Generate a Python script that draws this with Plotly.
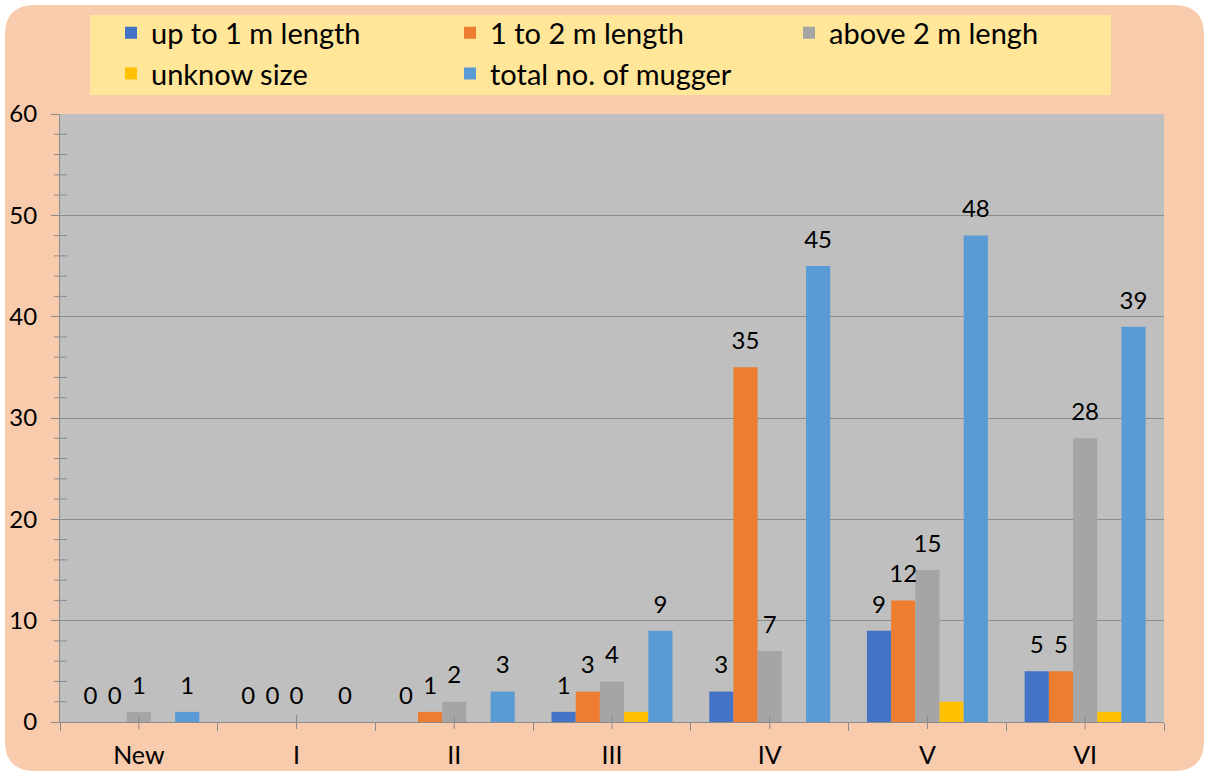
import plotly.graph_objects as go

# Mugger counts by size class for each survey block
categories = ["New", "I", "II", "III", "IV", "V", "VI"]
up_to_1m = [0, 0, 0, 1, 3, 9, 5]
one_to_2m = [0, 0, 1, 3, 35, 12, 5]
above_2m = [1, 0, 2, 4, 7, 15, 28]
unknown_size = [0, 0, 0, 1, 0, 2, 1]
total_muggers = [1, 0, 3, 9, 45, 48, 39]

series = [
    ("up to 1 m length", up_to_1m, "#4472c4", True),
    ("1 to 2 m length", one_to_2m, "#ed7d31", True),
    ("above 2 m lengh", above_2m, "#a5a5a5", True),
    ("unknow size", unknown_size, "#ffc000", False),
    ("total no. of mugger", total_muggers, "#5b9bd5", True),
]

W, H = 1210, 775
ML, MR, MT, MB = 60, 46, 114, 53
PW, PH = W - ML - MR, H - MT - MB
FONT = "Lato"
AXIS_GRAY = "#8c8c8c"
BAR_GAP = 0.233


def px_x(x):
    return (x - ML) / PW


def px_y(y):
    return (H - MB - y) / PH


def rounded_rect(x0, y0, x1, y1, r):
    pts = [
        ("M", x0 + r, y0), ("L", x1 - r, y0), ("Q", x1, y0, x1, y0 + r),
        ("L", x1, y1 - r), ("Q", x1, y1, x1 - r, y1), ("L", x0 + r, y1),
        ("Q", x0, y1, x0, y1 - r), ("L", x0, y0 + r), ("Q", x0, y0, x0 + r, y0),
    ]
    out = []
    for p in pts:
        cmd, coords = p[0], p[1:]
        vals = []
        for i in range(0, len(coords), 2):
            vals.append(f"{px_x(coords[i]):.5f},{px_y(coords[i + 1]):.5f}")
        out.append(cmd + " ".join(vals))
    return " ".join(out) + " Z"


fig = go.Figure()

for name, vals, color, labelled in series:
    fig.add_trace(go.Bar(
        x=categories, y=vals, name=name, marker_color=color,
        marker_line_width=0, hoverinfo="x+y+name",
    ))

# value labels, grouped the same way as the bars
for name, vals, color, labelled in series:
    fig.add_trace(go.Scatter(
        x=categories, y=vals, mode="markers+text",
        text=[str(v) for v in vals] if labelled else [""] * len(vals),
        textposition="top center",
        textfont=dict(family=FONT, size=24, color="#000000"),
        marker=dict(size=18, color="rgba(0,0,0,0)"),
        showlegend=False, hoverinfo="skip", cliponaxis=False,
    ))

shapes = [
    # rounded chart background
    dict(type="path", xref="paper", yref="paper", layer="below",
         path=rounded_rect(5, 5, 1204, 771, 30),
         fillcolor="#f8cbad", line=dict(width=0)),
    # plot area fill
    dict(type="rect", xref="paper", yref="paper", layer="below",
         x0=0, x1=1, y0=0, y1=1,
         fillcolor="#bfbfbf", line=dict(width=0)),
    # legend panel
    dict(type="rect", xref="paper", yref="paper", layer="below",
         x0=px_x(90), x1=px_x(1111), y0=px_y(95), y1=px_y(15),
         fillcolor="#ffe699", line=dict(width=0)),
]

# minor ticks on the value axis, straddling the axis line
for v in range(2, 60, 2):
    if v % 10:
        shapes.append(dict(type="line", xref="paper", yref="y",
                           x0=px_x(54), x1=px_x(67), y0=v, y1=v,
                           line=dict(color=AXIS_GRAY, width=1)))

# minor ticks at the category centres
for c in categories:
    shapes.append(dict(type="line", xref="x", yref="paper",
                       x0=c, x1=c, y0=px_y(729), y1=px_y(715),
                       line=dict(color=AXIS_GRAY, width=1)))

fig.update_layout(
    width=W, height=H,
    margin=dict(l=ML, r=MR, t=MT, b=MB, pad=0, autoexpand=False),
    paper_bgcolor="#ffffff",
    plot_bgcolor="rgba(0,0,0,0)",
    barmode="group", bargap=BAR_GAP, bargroupgap=0,
    scattermode="group", scattergap=BAR_GAP,
    font=dict(family=FONT, size=24, color="#000000"),
    showlegend=True,
    legend=dict(
        orientation="h", x=px_x(111), y=px_y(7.5), xanchor="left", yanchor="top",
        bgcolor="rgba(0,0,0,0)", font=dict(family=FONT, size=29, color="#000000"),
        entrywidth=294, entrywidthmode="pixels", traceorder="normal",
        itemclick=False, itemdoubleclick=False,
    ),
    xaxis=dict(
        type="category", categoryorder="array", categoryarray=categories,
        showgrid=False, showline=True, linecolor=AXIS_GRAY, linewidth=1,
        ticks="outside", tickson="boundaries", ticklen=8, tickcolor=AXIS_GRAY,
        tickfont=dict(family=FONT, size=25, color="#000000"),
        ticklabelstandoff=11, fixedrange=True, automargin=False,
    ),
    yaxis=dict(
        range=[0, 60], dtick=10, tick0=0,
        showgrid=True, gridcolor=AXIS_GRAY, gridwidth=1,
        showline=True, linecolor=AXIS_GRAY, linewidth=1,
        ticks="outside", ticklen=8, tickcolor=AXIS_GRAY,
        tickfont=dict(family=FONT, size=24, color="#000000"),
        ticklabelstandoff=9, zeroline=False, fixedrange=True, automargin=False,
    ),
    shapes=shapes,
)

fig.write_html("out.html")
